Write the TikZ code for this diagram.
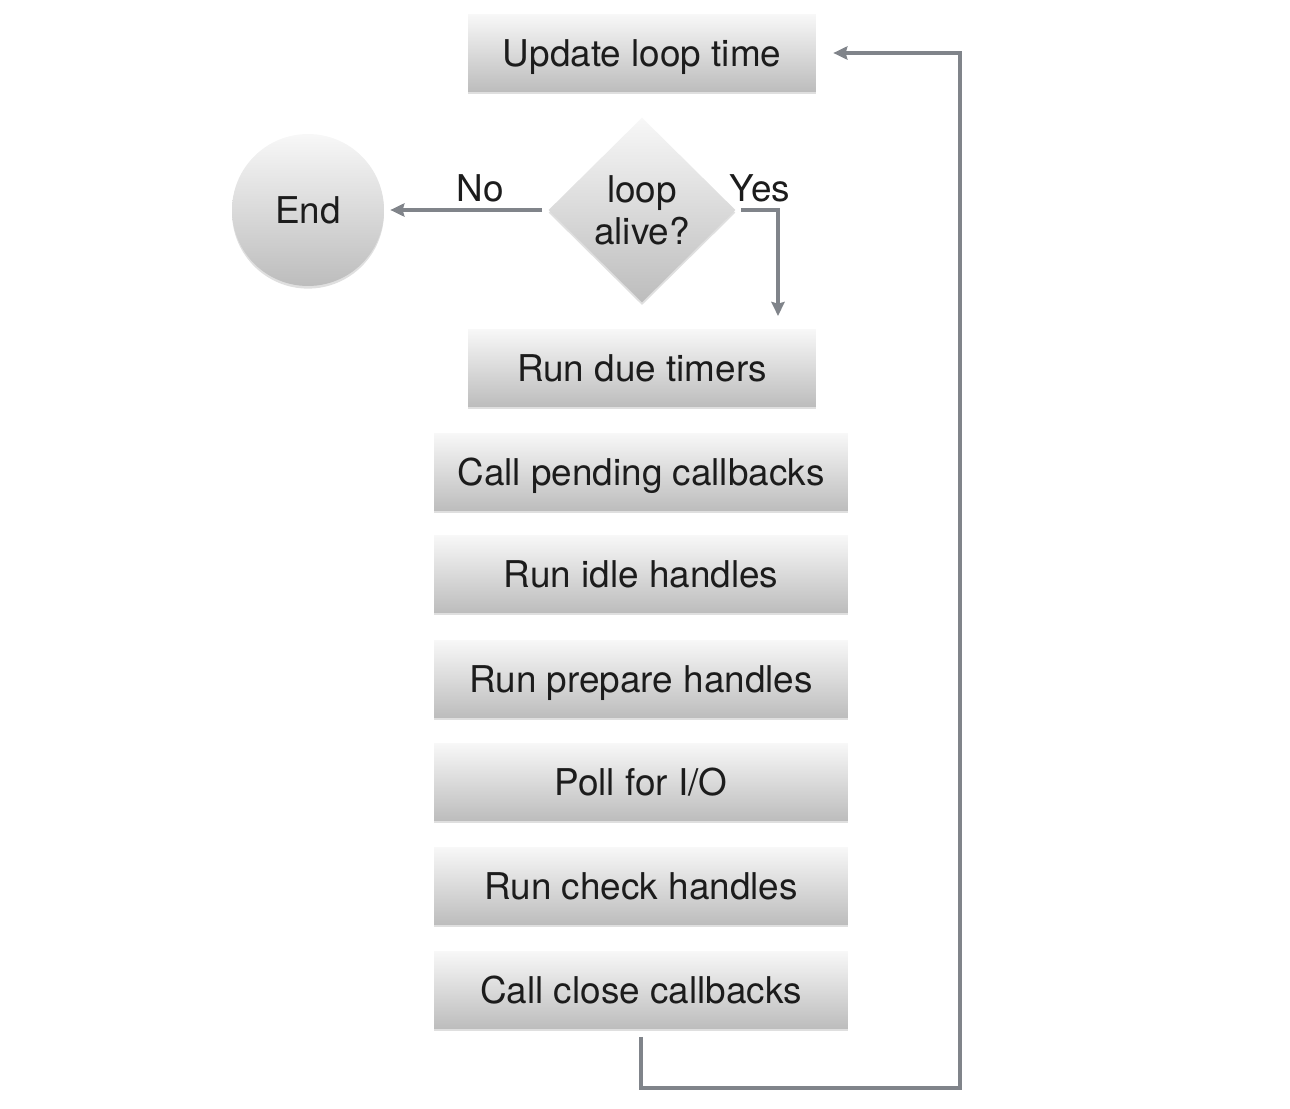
\documentclass[tikz,border=0pt]{standalone}
\usepackage{fontspec}
\setmainfont{TeX Gyre Heros}
\usetikzlibrary{shapes.geometric,shadows,arrows.meta}
\definecolor{loopgray}{RGB}{128,132,138}
\definecolor{loopink}{RGB}{28,28,28}
\begin{document}
\begin{tikzpicture}[
   x=0.02cm,y=-0.02cm,>={Stealth[length=8pt,width=7.5pt,inset=1pt]},
   loopshade/.style={top color=black!3,bottom color=black!26,text=loopink,
     font=\fontsize{21}{25}\selectfont,
     drop shadow={shadow xshift=0pt,shadow yshift=-1.5pt,opacity=0.25}},
   loopbox/.style={loopshade,rectangle,minimum width=6.96cm,minimum height=1.54cm,
     text height=15.1pt,text depth=0pt},
   loopwide/.style={loopbox,minimum width=8.28cm},
   loopcheck/.style={loopshade,diamond,minimum width=3.74cm,minimum height=3.7cm,
     inner sep=0pt,align=center,font=\fontsize{21}{24}\selectfont},
   loopend/.style={loopshade,circle,minimum size=3.04cm},
   looplabel/.style={font=\fontsize{21}{25}\selectfont,text=loopink,inner sep=1pt},
   loopedge/.style={->,draw=loopgray,line width=2pt}
 ]
 \useasboundingbox (0,0) rectangle (1290,1108);
 % The phases of one loop iteration, top to bottom.
 \node[loopbox] (update) at (642,53) {Update loop time};
 \node[loopcheck] (alive) at (642,210) {loop\\alive?};
 \node[loopend] (end) at (308,210) {End};
 \node[loopbox] (timers) at (642,368) {Run due timers};
 \foreach \name/\y/\txt in {
   pending/472/Call pending callbacks, idle/574/Run idle handles,
   prepare/679/Run prepare handles, poll/782/{Poll for I/O},
   checks/886/Run check handles, close/990/Call close callbacks} {
   \node[loopwide] (\name) at (641,\y) {\txt};
 }
 \node[looplabel] (no) at (480,188) {No};
 \node[looplabel] (yes) at (760,188) {Yes};
 \coordinate (yesend) at (778,316);
 \coordinate (back) at (960,1088);
 \draw[loopedge,shorten <=0.12cm,shorten >=0.12cm] (alive.west) -- (end.east);
 \draw[loopedge,shorten <=0.1cm] (alive.east) -| (yesend);
 \draw[loopedge,shorten <=0.16cm,shorten >=0.34cm] (close.south) |- (back) |- (update.east);
\end{tikzpicture}
\end{document}
